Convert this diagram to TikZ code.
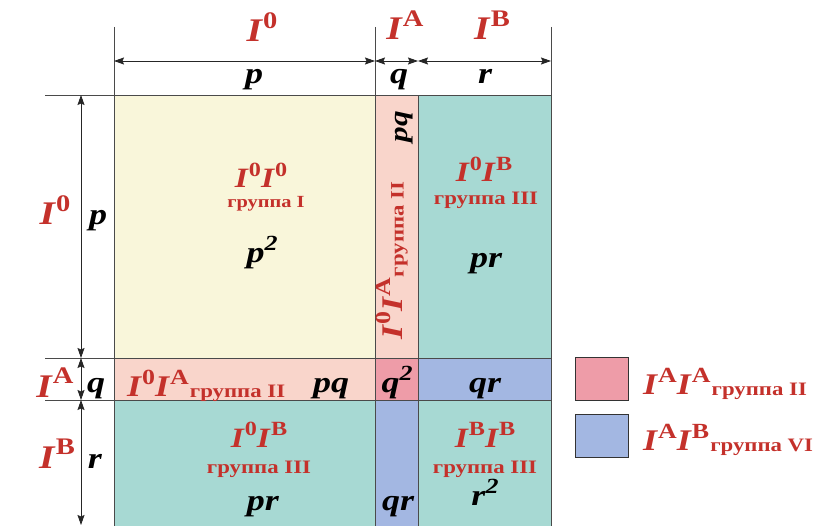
\documentclass[tikz,border=0pt]{standalone}
\usepackage{fontspec}
\setmainfont[FakeStretch=1.2]{Liberation Serif}
\usetikzlibrary{arrows.meta}
\definecolor{cyel}{HTML}{F9F6DA}
\definecolor{cpink}{HTML}{F9D5CB}
\definecolor{cteal}{HTML}{A7D9D3}
\definecolor{cblue}{HTML}{A3B7E2}
\definecolor{crose}{HTML}{EE9CA8}
\definecolor{cred}{HTML}{C4312B}
\definecolor{cline}{HTML}{4A4A4A}
\newcommand{\supu}[1]{\/\raisebox{0.40em}{\scalebox{0.72}{\upshape #1}}}
\newcommand{\supi}[1]{\/\raisebox{0.40em}{\scalebox{0.72}{#1}}}
\newcommand{\grpsub}[1]{\kern1pt\raisebox{-0.05em}{\fontsize{19}{19}\selectfont\upshape #1}}
\begin{document}
\begin{tikzpicture}[x=1pt,y=-1pt,
  cellbox/.style={draw=cline, line width=0.8pt, inner sep=0pt, outer sep=0pt},
  legbox/.style={draw=black!80, line width=1pt, inner sep=0pt, outer sep=0pt, minimum width=53pt},
  guide/.style={draw=cline, line width=0.8pt},
  dimarrow/.style={draw=black!85, line width=0.8pt, {Stealth[length=10pt,width=7pt,inset=1.5pt]}-{Stealth[length=10pt,width=7pt,inset=1.5pt]}},
  outI/.style={font=\fontsize{33}{33}\selectfont\bfseries\itshape, text=cred, anchor=base, inner sep=0pt},
  dimlab/.style={font=\fontsize{30}{30}\selectfont\bfseries\itshape, text=black, anchor=base, inner sep=0pt},
  cellI/.style={font=\fontsize{28}{28}\selectfont\bfseries\itshape, text=cred, anchor=base, inner sep=0pt},
  rowI/.style={font=\fontsize{30}{30}\selectfont\bfseries\itshape, text=cred, anchor=base west, inner sep=0pt},
  grp/.style={font=\fontsize{19}{19}\selectfont\bfseries, text=cred, anchor=base, inner sep=0pt},
  val/.style={font=\fontsize{30}{30}\selectfont\bfseries\itshape, text=black, anchor=base, inner sep=0pt}
]
\clip (0,0) rectangle (819,526);
% cells
\node[cellbox, fill=cyel,  minimum width=261pt, minimum height=263pt] (c11) at (244.5,226.5) {};
\node[cellbox, fill=cpink, minimum width=43pt,  minimum height=263pt] (c21) at (396.5,226.5) {};
\node[cellbox, fill=cteal, minimum width=133pt, minimum height=263pt] (c31) at (484.5,226.5) {};
\node[cellbox, fill=cpink, minimum width=261pt, minimum height=42pt] (c12) at (244.5,379) {};
\node[cellbox, fill=crose, minimum width=43pt,  minimum height=42pt] (c22) at (396.5,379) {};
\node[cellbox, fill=cblue, minimum width=133pt, minimum height=42pt] (c32) at (484.5,379) {};
\node[cellbox, fill=cteal, minimum width=261pt, minimum height=160pt] (c13) at (244.5,480) {};
\node[cellbox, fill=cblue, minimum width=43pt,  minimum height=160pt] (c23) at (396.5,480) {};
\node[cellbox, fill=cteal, minimum width=133pt, minimum height=160pt] (c33) at (484.5,480) {};
% guide lines
\coordinate (gl1) at (45,95);
\coordinate (gl2) at (45,358);
\coordinate (gl3) at (45,400);
\coordinate (gt1) at (114,27);
\coordinate (gt2) at (375,27);
\coordinate (gt3) at (551,27);
\draw[guide] (gl1) -- (c11.north west);
\draw[guide] (gl2) -- (c12.north west);
\draw[guide] (gl3) -- (c13.north west);
\draw[guide] (gt1) -- (c11.north west);
\draw[guide] (gt2) -- (c21.north west);
\draw[guide] (gt3) -- (c31.north east);
% dimension arrows
\coordinate (h0) at (114,61);
\coordinate (h1) at (375,61);
\coordinate (h2) at (418,61);
\coordinate (h3) at (551,61);
\draw[dimarrow] (h0) -- (h1);
\draw[dimarrow] (h1) -- (h2);
\draw[dimarrow] (h2) -- (h3);
\coordinate (v0) at (81,95);
\coordinate (v1) at (81,358);
\coordinate (v2) at (81,400);
\coordinate (v3) at (81,525);
\draw[dimarrow] (v0) -- (v1);
\draw[dimarrow] (v1) -- (v2);
\draw[dimarrow] (v2) -- (v3);
% top labels
\node[outI] (tI0) at (262,42) {I\supu{0}};
\node[outI] (tIA) at (405,40) {I\supu{A}};
\node[outI] (tIB) at (492,40) {I\supu{B}};
\node[dimlab] (tp) at (254,84) {p};
\node[dimlab] (tq) at (399,84) {q};
\node[dimlab] (tr) at (485,84) {r};
% left labels
\node[outI] (lI0) at (55,225) {I\supu{0}};
\node[outI] (lIA) at (55,397) {I\supu{A}};
\node[outI] (lIB) at (57,468) {I\supu{B}};
\node[dimlab] (lp) at (98,225) {p};
\node[dimlab] (lq) at (96,392) {q};
\node[dimlab] (lr) at (95,468) {r};
% cell 11
\node[cellI] (a11) at (261,188) {I\supu{0}I\supu{0}};
\node[grp, font=\fontsize{17}{17}\selectfont\bfseries] (g11) at (266,208) {группа I};
\node[val]   (v11) at (262,263) {p\supi{2}};
% cell 21 (rotated)
\node[rowI, rotate=90] (a21) at (402,340) {I\supu{0}I\supu{A}\grpsub{группа II}};
\node[val, rotate=90, font=\fontsize{26}{26}\selectfont\bfseries\itshape] (v21) at (407,127) {pq};
% cell 31
\node[cellI] (a31) at (484,182) {I\supu{0}I\supu{B}};
\node[grp]   (g31) at (486,205) {группа III};
\node[val]   (v31) at (486,268) {pr};
% row q
\node[rowI] (a12) at (127,396) {I\supu{0}I\supu{A}\grpsub{группа II}};
\node[val] (v12) at (331,392) {pq};
\node[val] (v22) at (397,392) {q\supi{2}};
\node[val] (v32) at (485,392) {qr};
% row r
\node[cellI] (a13) at (259,447) {I\supu{0}I\supu{B}};
\node[grp]   (g13) at (259,473) {группа III};
\node[val]   (v13) at (263,510) {pr};
\node[val]   (v23) at (398,510) {qr};
\node[cellI] (a33) at (485,447) {I\supu{B}I\supu{B}};
\node[grp]   (g33) at (485,473) {группа III};
\node[val]   (v33) at (485,505) {r\supi{2}};
% legend
\node[legbox, fill=crose, minimum height=42pt] (k1) at (601.5,379) {};
\node[legbox, fill=cblue, minimum height=43pt] (k2) at (601.5,435.5) {};
\node[rowI] (k1t) at (643,394) {I\supu{A}I\supu{A}\grpsub{группа II}};
\node[rowI] (k2t) at (643,450) {I\supu{A}I\supu{B}\grpsub{группа VI}};
\end{tikzpicture}
\end{document}
